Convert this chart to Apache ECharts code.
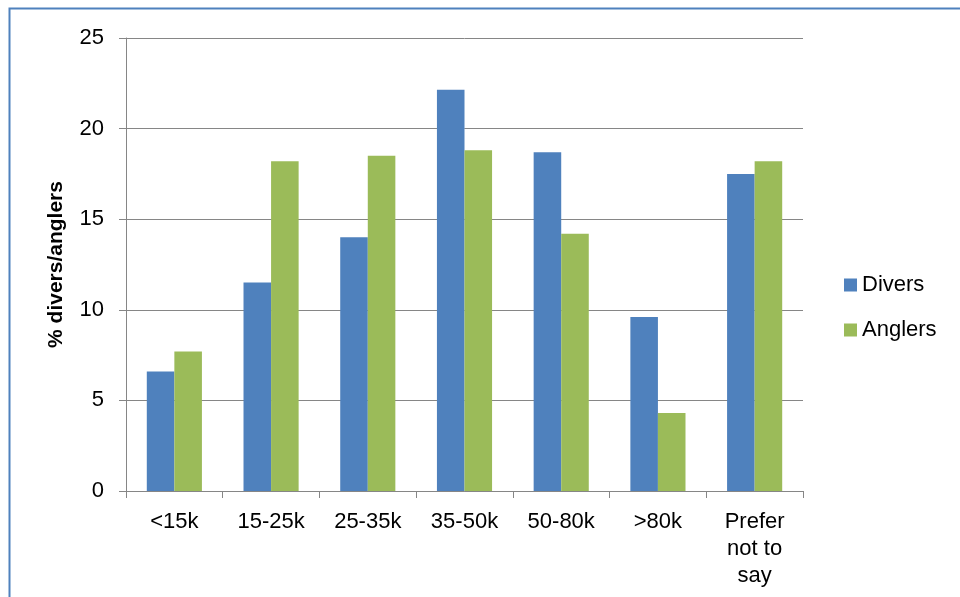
<!DOCTYPE html>
<html>
<head>
<meta charset="utf-8">
<script src="https://cdn.jsdelivr.net/npm/echarts@6/dist/echarts.min.js"></script>
<style>
  html, body { margin: 0; padding: 0; background: #fff; }
  #chart { width: 960px; height: 597px; }
</style>
</head>
<body>
<div id="chart"></div>
<script>
const categories = ['<15k', '15-25k', '25-35k', '35-50k', '50-80k', '>80k', 'Prefer\nnot to\nsay']
const divers = [6.6, 11.5, 14.0, 22.15, 18.7, 9.6, 17.5]
const anglers = [7.7, 18.2, 18.5, 18.8, 14.2, 4.3, 18.2]

const chart = echarts.init(document.getElementById('chart'))
const fontFamily = '"Liberation Sans", Arial, sans-serif'

const option = {
  animation: false,
  textStyle: { fontFamily },
  graphic: [
    {
      type: 'rect',
      shape: { x: 9.5, y: 8.5, width: 980, height: 620 },
      style: { fill: 'none', stroke: '#4F81BD', lineWidth: 2 }
    }
  ],
  grid: { left: 126, right: 157, top: 38, bottom: 106 },
  legend: {
    orient: 'vertical',
    left: 839,
    top: 269,
    itemWidth: 13,
    itemHeight: 13,
    itemGap: 23,
    icon: 'rect',
    textStyle: { fontSize: 22, color: '#000', fontFamily },
    data: ['Divers', 'Anglers']
  },
  xAxis: {
    type: 'category',
    data: categories,
    axisLine: { lineStyle: { color: '#868686', width: 1 } },
    axisTick: { show: true, length: 7, lineStyle: { color: '#868686' } },
    axisLabel: {
      color: '#000', fontSize: 22, margin: 17, lineHeight: 27,
      interval: 0, fontFamily
    }
  },
  yAxis: {
    type: 'value',
    min: 0,
    max: 25,
    interval: 5,
    name: '% divers/anglers',
    nameLocation: 'middle',
    nameGap: 59,
    nameTextStyle: { fontSize: 21, fontWeight: 'bold', color: '#000', fontFamily },
    axisLine: { show: true, lineStyle: { color: '#868686', width: 1 } },
    axisTick: { show: true, length: 7, lineStyle: { color: '#868686' } },
    axisLabel: { color: '#000', fontSize: 22, margin: 22, fontFamily },
    splitLine: { lineStyle: { color: '#868686', width: 1 } }
  },
  series: [
    {
      name: 'Divers',
      type: 'bar',
      data: divers,
      barGap: '0%',
      barCategoryGap: '43%',
      itemStyle: { color: '#4F81BD' }
    },
    {
      name: 'Anglers',
      type: 'bar',
      data: anglers,
      barGap: '0%',
      barCategoryGap: '43%',
      itemStyle: { color: '#9BBB59' }
    }
  ]
}

chart.setOption(option)
</script>
</body>
</html>
